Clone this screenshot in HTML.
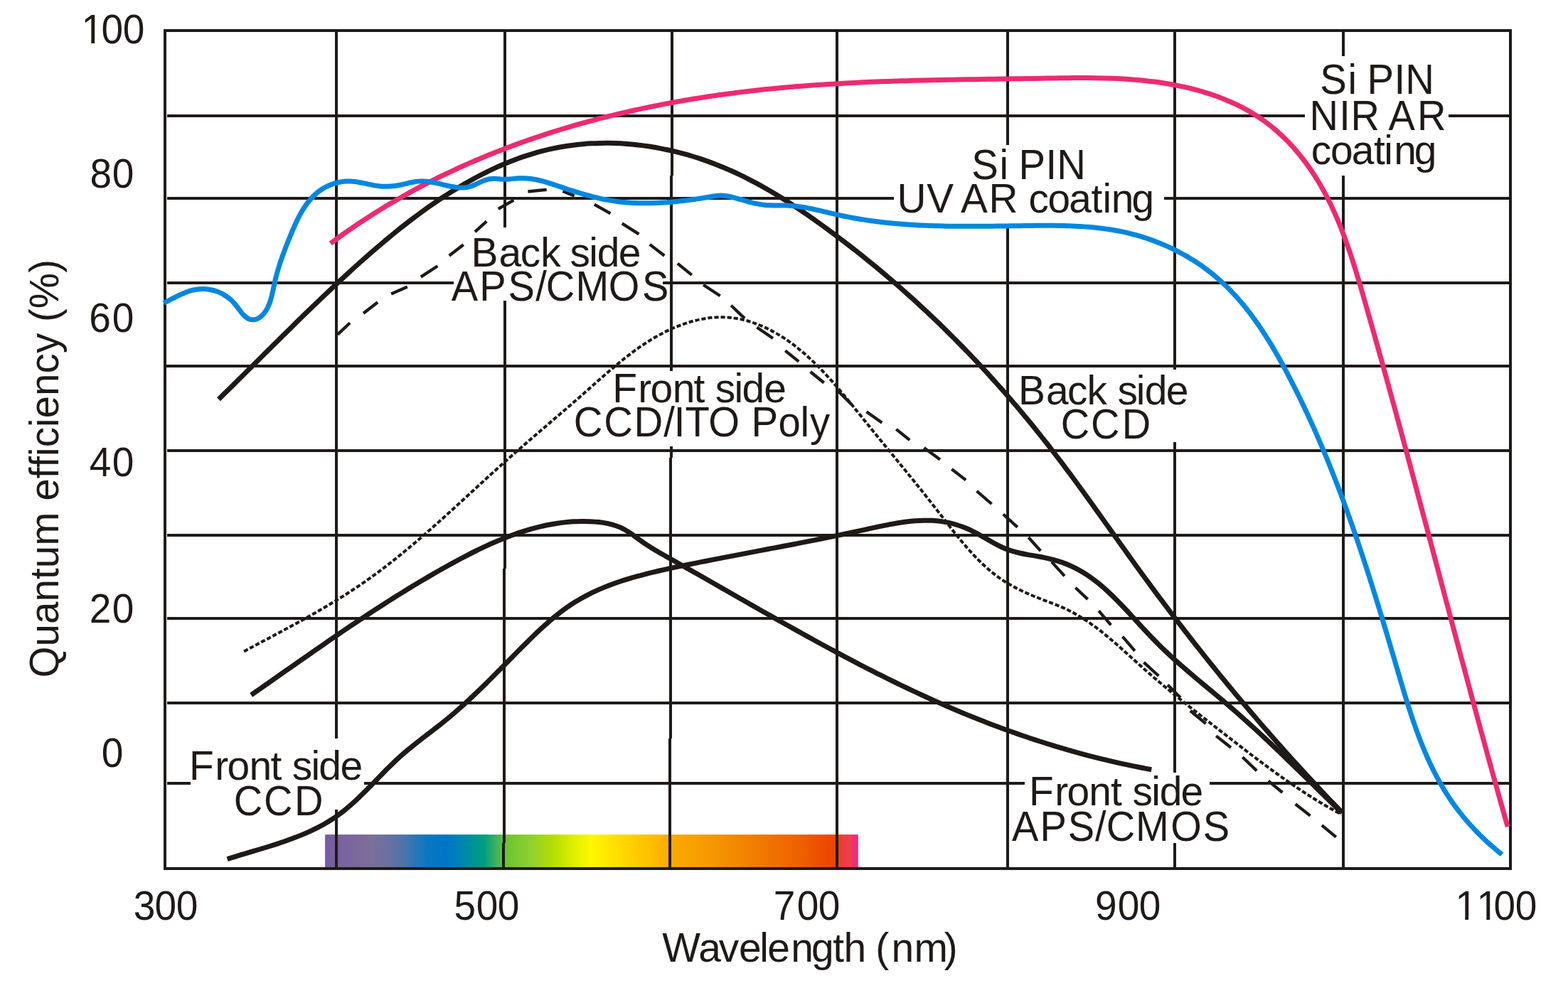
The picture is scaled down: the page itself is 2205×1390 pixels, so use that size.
<!DOCTYPE html>
<html lang="en">
<head>
<meta charset="utf-8">
<title>Quantum efficiency vs wavelength</title>
<style>
html,body{margin:0;padding:0;background:#fff}
body{width:2205px;height:1390px;overflow:hidden}
svg{display:block}
svg text{font-family:"Liberation Sans", Arial, Helvetica, sans-serif;fill:#1f1a17;white-space:pre}
</style>
</head>
<body>
<svg xmlns="http://www.w3.org/2000/svg" width="2205" height="1390" viewBox="0 0 2205 1390">
<rect width="2205" height="1390" fill="#fff"/>
<g id="spectrum">
<defs><linearGradient id="spec" gradientUnits="userSpaceOnUse" x1="457.1" y1="0" x2="1206.8" y2="0"><stop offset="0.0000" stop-color="#755ca4"/><stop offset="0.0305" stop-color="#79649f"/><stop offset="0.0866" stop-color="#7b6e9a"/><stop offset="0.1172" stop-color="#6a70a0"/><stop offset="0.1506" stop-color="#4a74ac"/><stop offset="0.1906" stop-color="#0a78c0"/><stop offset="0.2266" stop-color="#0075c8"/><stop offset="0.2626" stop-color="#0088aa"/><stop offset="0.2995" stop-color="#00a07e"/><stop offset="0.3213" stop-color="#44b060"/><stop offset="0.3407" stop-color="#6ec232"/><stop offset="0.3840" stop-color="#8ed030"/><stop offset="0.4320" stop-color="#b8e000"/><stop offset="0.4689" stop-color="#e0f000"/><stop offset="0.5001" stop-color="#fff800"/><stop offset="0.5414" stop-color="#ffe000"/><stop offset="0.5894" stop-color="#ffc800"/><stop offset="0.6504" stop-color="#faaa00"/><stop offset="0.7242" stop-color="#f59800"/><stop offset="0.8210" stop-color="#f07800"/><stop offset="0.8936" stop-color="#ee6000"/><stop offset="0.9416" stop-color="#ec4800"/><stop offset="0.9643" stop-color="#eb4500"/><stop offset="0.9683" stop-color="#ec3c40"/><stop offset="0.9876" stop-color="#ee4050"/><stop offset="0.9880" stop-color="#ee2d7a"/><stop offset="1.0000" stop-color="#ee2d7a"/></linearGradient></defs>
<rect x="457.1" y="1174.1" width="749.7" height="46.9" fill="url(#spec)"/>
</g>
<g id="grid">
<path d="M473 43V1039M473 1139.3V1222M710 43V319.8M710 423.2V800M708.5 800V1186M707.5 1186V1222M945 43V247M944 247V522.3M944 628.3V644M943 644V1039M942 1039V1222M1177 43V1222M1417 43V203.6M1417 320.8V1222M1652 43V519.6M1652 622V1086.7M1652 1186V1222M1889 43V78.6M1889 247.1V1222M235 163H1834.7M2037 163H2124M235 279H1256.8M1637 279H2124M235 398H637.5M932 398H2124M232 515H2124M235 634H2124M235 753H2124M235 870H2124M235 989H2124M235 1102H268M512 1102H1440.8M1701.1 1102H2124" fill="none" stroke="#1f1a17" stroke-width="4" shape-rendering="crispEdges"/>
<rect x="232" y="43" width="1892" height="1179" fill="none" stroke="#1f1a17" stroke-width="4" shape-rendering="crispEdges"/>
</g>
<g id="curves" shape-rendering="geometricPrecision">
<path d="M343.11 916.4C344.87 915.46 350.15 912.64 353.68 910.76C357.2 908.89 360.74 907.01 364.27 905.14C367.81 903.26 371.34 901.39 374.88 899.51C378.42 897.63 381.96 895.75 385.5 893.86C389.03 891.97 392.57 890.08 396.11 888.19C399.64 886.29 403.18 884.39 406.7 882.48C410.23 880.56 413.76 878.65 417.28 876.71C420.79 874.78 424.31 872.85 427.81 870.89C431.32 868.94 434.82 866.98 438.31 865C441.8 863.02 445.28 861.03 448.75 859.02C452.21 857.01 455.68 854.99 459.12 852.95C462.57 850.91 466 848.85 469.42 846.78C472.84 844.7 476.25 842.6 479.64 840.48C483.03 838.36 486.41 836.22 489.77 834.06C493.12 831.9 496.47 829.71 499.79 827.5C503.11 825.29 506.41 823.05 509.69 820.79C512.98 818.53 516.24 816.24 519.48 813.92C522.73 811.61 525.95 809.27 529.16 806.9C532.36 804.54 535.55 802.15 538.72 799.74C541.89 797.33 545.05 794.9 548.19 792.45C551.33 790 554.45 787.53 557.56 785.04C560.67 782.55 563.77 780.04 566.85 777.51C569.93 774.99 573 772.44 576.06 769.88C579.12 767.32 582.17 764.75 585.2 762.16C588.24 759.57 591.27 756.97 594.28 754.36C597.3 751.74 600.31 749.11 603.31 746.48C606.31 743.84 609.3 741.19 612.28 738.53C615.27 735.88 618.25 733.21 621.22 730.54C624.19 727.86 627.16 725.18 630.12 722.5C633.09 719.81 636.04 717.12 639 714.42C641.96 711.72 644.91 709.02 647.86 706.32C650.81 703.61 653.76 700.91 656.71 698.2C659.66 695.49 662.61 692.78 665.56 690.07C668.51 687.37 671.46 684.66 674.41 681.95C677.37 679.25 680.32 676.54 683.28 673.84C686.23 671.14 689.19 668.45 692.16 665.76C695.13 663.07 698.1 660.38 701.07 657.7C704.05 655.03 707.03 652.35 710.02 649.69C713.01 647.03 716 644.38 719 641.73C722 639.08 725.01 636.44 728.02 633.81C731.03 631.18 734.05 628.55 737.07 625.93C740.09 623.3 743.12 620.69 746.15 618.07C749.17 615.46 752.21 612.85 755.24 610.24C758.27 607.63 761.31 605.03 764.34 602.42C767.38 599.82 770.41 597.22 773.45 594.61C776.48 592.01 779.52 589.4 782.55 586.8C785.59 584.19 788.62 581.59 791.65 578.98C794.69 576.37 797.72 573.76 800.74 571.14C803.77 568.52 806.79 565.91 809.81 563.28C812.83 560.66 815.84 558.03 818.85 555.39C821.86 552.75 824.86 550.11 827.86 547.46C830.86 544.81 833.85 542.15 836.85 539.5C839.85 536.85 842.84 534.2 845.84 531.56C848.85 528.92 851.85 526.28 854.88 523.67C857.9 521.06 860.93 518.46 863.99 515.89C867.04 513.32 870.11 510.77 873.21 508.26C876.31 505.75 879.42 503.26 882.58 500.83C885.73 498.39 888.9 495.99 892.12 493.64C895.34 491.29 898.59 488.98 901.88 486.73C905.18 484.49 908.51 482.29 911.89 480.17C915.27 478.04 918.7 475.97 922.18 473.98C925.66 471.99 929.19 470.06 932.77 468.23C936.35 466.4 939.98 464.64 943.65 462.99C947.32 461.34 951.05 459.77 954.81 458.32C958.58 456.87 962.39 455.51 966.25 454.29C970.1 453.06 974.01 451.94 977.95 450.96C981.88 449.99 985.87 449.13 989.85 448.44C993.83 447.75 997.85 447.19 1001.85 446.81C1005.84 446.44 1009.85 446.22 1013.82 446.2C1017.8 446.18 1021.76 446.34 1025.68 446.69C1029.6 447.03 1033.5 447.57 1037.36 448.25C1041.23 448.94 1045.06 449.81 1048.85 450.81C1052.64 451.82 1056.4 452.99 1060.12 454.29C1063.83 455.59 1067.51 457.03 1071.14 458.59C1074.77 460.15 1078.36 461.85 1081.9 463.65C1085.43 465.44 1088.93 467.36 1092.36 469.36C1095.8 471.36 1099.19 473.47 1102.52 475.66C1105.84 477.84 1109.11 480.11 1112.33 482.45C1115.55 484.79 1118.71 487.21 1121.82 489.69C1124.93 492.17 1127.99 494.72 1131.01 497.33C1134.02 499.93 1136.99 502.61 1139.91 505.33C1142.84 508.05 1145.72 510.83 1148.57 513.64C1151.42 516.46 1154.23 519.34 1157.01 522.24C1159.78 525.15 1162.52 528.1 1165.24 531.08C1167.96 534.06 1170.64 537.08 1173.3 540.11C1175.96 543.15 1178.6 546.22 1181.21 549.3C1183.83 552.39 1186.43 555.5 1189.01 558.61C1191.59 561.73 1194.15 564.86 1196.71 568C1199.26 571.13 1201.8 574.27 1204.33 577.41C1206.87 580.55 1209.39 583.69 1211.92 586.82C1214.44 589.95 1216.97 593.08 1219.49 596.19C1222.01 599.3 1224.53 602.41 1227.05 605.5C1229.57 608.6 1232.08 611.68 1234.6 614.77C1237.11 617.85 1239.63 620.93 1242.14 624C1244.66 627.07 1247.17 630.14 1249.68 633.21C1252.19 636.28 1254.7 639.34 1257.21 642.4C1259.71 645.47 1262.22 648.53 1264.72 651.6C1267.23 654.67 1269.73 657.73 1272.23 660.81C1274.73 663.88 1277.23 666.95 1279.73 670.03C1282.23 673.12 1284.73 676.2 1287.22 679.29C1289.72 682.39 1292.21 685.49 1294.7 688.6C1297.19 691.71 1299.68 694.83 1302.17 697.96C1304.65 701.09 1307.14 704.23 1309.62 707.38C1312.11 710.53 1314.59 713.7 1317.07 716.88C1319.55 720.06 1322.02 723.26 1324.5 726.47C1326.98 729.67 1329.46 732.89 1331.95 736.1C1334.44 739.31 1336.93 742.53 1339.45 745.72C1341.97 748.91 1344.5 752.1 1347.06 755.25C1349.61 758.4 1352.19 761.54 1354.8 764.63C1357.41 767.72 1360.05 770.78 1362.73 773.79C1365.41 776.79 1368.12 779.76 1370.88 782.66C1373.65 785.55 1376.45 788.4 1379.31 791.17C1382.17 793.93 1385.07 796.64 1388.04 799.25C1391.01 801.86 1394.04 804.4 1397.13 806.84C1400.23 809.28 1403.39 811.63 1406.62 813.87C1409.85 816.11 1413.17 818.24 1416.53 820.28C1419.9 822.33 1423.35 824.26 1426.84 826.13C1430.32 828 1433.88 829.77 1437.46 831.48C1441.05 833.2 1444.69 834.83 1448.36 836.41C1452.03 838 1455.74 839.51 1459.46 840.99C1463.19 842.48 1466.96 843.88 1470.7 845.32C1474.45 846.75 1478.23 848.13 1481.95 849.6C1485.67 851.07 1489.39 852.54 1493.02 854.14C1496.66 855.73 1500.25 857.4 1503.78 859.18C1507.3 860.96 1510.76 862.84 1514.17 864.8C1517.58 866.76 1520.93 868.82 1524.24 870.95C1527.55 873.07 1530.8 875.28 1534.02 877.55C1537.25 879.82 1540.42 882.16 1543.57 884.55C1546.71 886.93 1549.82 889.39 1552.9 891.88C1555.99 894.37 1559.04 896.91 1562.07 899.48C1565.11 902.05 1568.12 904.66 1571.12 907.29C1574.12 909.92 1577.1 912.58 1580.08 915.24C1583.06 917.91 1586.03 920.6 1589 923.28C1591.97 925.97 1594.94 928.66 1597.91 931.35C1600.89 934.03 1603.87 936.71 1606.86 939.37C1609.86 942.02 1612.86 944.67 1615.88 947.29C1618.9 949.92 1621.93 952.53 1624.97 955.12C1628.01 957.71 1631.06 960.29 1634.12 962.86C1637.19 965.42 1640.26 967.97 1643.34 970.52C1646.42 973.06 1649.51 975.58 1652.61 978.1C1655.71 980.62 1658.81 983.13 1661.93 985.63C1665.04 988.13 1668.16 990.62 1671.28 993.11C1674.41 995.59 1677.54 998.07 1680.68 1000.54C1683.81 1003.02 1686.96 1005.48 1690.1 1007.95C1693.25 1010.41 1696.39 1012.87 1699.55 1015.33C1702.7 1017.78 1705.85 1020.24 1709.01 1022.69C1712.17 1025.15 1715.32 1027.6 1718.48 1030.06C1721.64 1032.51 1724.8 1034.97 1727.96 1037.43C1731.13 1039.88 1734.29 1042.34 1737.46 1044.79C1740.62 1047.24 1743.79 1049.69 1746.97 1052.13C1750.14 1054.57 1753.32 1057.01 1756.5 1059.44C1759.69 1061.87 1762.88 1064.29 1766.07 1066.7C1769.27 1069.11 1772.47 1071.52 1775.69 1073.91C1778.9 1076.3 1782.11 1078.68 1785.34 1081.04C1788.57 1083.41 1791.81 1085.76 1795.06 1088.09C1798.3 1090.43 1801.56 1092.75 1804.83 1095.05C1808.1 1097.35 1811.38 1099.63 1814.67 1101.9C1817.96 1104.16 1821.27 1106.4 1824.59 1108.62C1827.91 1110.84 1831.24 1113.04 1834.59 1115.21C1837.94 1117.38 1841.3 1119.53 1844.68 1121.66C1848.06 1123.78 1851.45 1125.87 1854.87 1127.94C1858.28 1130 1861.71 1132.04 1865.16 1134.05C1868.61 1136.05 1872.07 1138.03 1875.56 1139.97C1879.05 1141.91 1884.33 1144.74 1886.08 1145.7" fill="none" stroke="#1f1a17" stroke-width="4" stroke-dasharray="6.2 2.9"/>
<path d="M474.8 470.6L492.1 454.3M511.1 440.7L531.1 425.3M550.1 413.5L572.8 403.5M591.8 389.6L615.4 374.2M631.7 359.7L651.7 344.3M668 326.1L684.3 311.3M700.7 293.9L722.4 281.7M742.4 269.5L768.7 266.8M791.4 269L807.7 275.4M835.8 287.7L858.5 300.4M874.8 314.4L898.4 329.4M913.8 343.9L934.3 359.7M952.8 370.6L972.8 386.9M989.1 400.8L1012.7 416.2M1028.1 429.8L1047.1 447.9M1064.4 460.6L1087 476.1M1104.3 493.3L1123.3 508.7M1139.6 523L1158.7 538.5M1178.6 550.3L1197.7 569.3M1218.5 579.3L1240.3 594.7M1260.3 603.8L1279.3 619.2M1299.3 630.1L1322 646.4M1338.3 660L1358.2 675.4M1373.6 690.8L1394.5 709M1410.8 723.5L1430.8 741.6M1446.2 756L1463.4 775M1478.8 790.4L1497 810.4M1512.4 826.7L1529.6 843.1M1545.1 859.4L1562.3 879.3M1578.6 895.7L1595.8 915.6M1608.5 931.9L1629.4 951M1642 963.5L1660 981.5M1673.9 1000L1695.7 1018.1M1710.2 1035.4L1731 1051.7M1747.3 1065.3L1767.3 1084.4M1783.6 1098.7L1803.5 1115M1821.7 1131.3L1842.5 1147.6M1858.9 1161.2L1878.8 1177.6" fill="none" stroke="#1f1a17" stroke-width="4.3"/>
<path d="M353.24 977.78C354.91 976.62 359.91 973.13 363.23 970.81C366.56 968.49 369.87 966.17 373.19 963.85C376.5 961.52 379.81 959.2 383.12 956.88C386.43 954.57 389.73 952.25 393.03 949.93C396.33 947.62 399.63 945.3 402.93 942.99C406.22 940.68 409.52 938.37 412.81 936.06C416.1 933.76 419.39 931.45 422.68 929.15C425.97 926.85 429.26 924.55 432.55 922.26C435.84 919.96 439.13 917.67 442.42 915.39C445.71 913.1 449 910.82 452.29 908.54C455.58 906.26 458.87 903.99 462.17 901.72C465.47 899.45 468.76 897.19 472.06 894.93C475.37 892.68 478.67 890.42 481.98 888.18C485.28 885.93 488.6 883.69 491.91 881.46C495.23 879.22 498.55 876.99 501.87 874.77C505.2 872.55 508.53 870.34 511.86 868.13C515.2 865.92 518.54 863.72 521.89 861.53C525.24 859.34 528.59 857.15 531.95 854.98C535.31 852.8 538.68 850.63 542.06 848.47C545.44 846.31 548.82 844.16 552.21 842.02C555.61 839.88 559.01 837.75 562.42 835.62C565.83 833.5 569.26 831.38 572.69 829.28C576.12 827.18 579.56 825.08 583.01 823C586.46 820.92 589.93 818.84 593.4 816.78C596.88 814.72 600.36 812.67 603.86 810.63C607.36 808.59 610.87 806.56 614.4 804.54C617.92 802.52 621.46 800.52 625.01 798.52C628.56 796.53 632.12 794.55 635.7 792.58C639.28 790.62 642.87 788.67 646.48 786.75C650.08 784.82 653.7 782.92 657.34 781.04C660.97 779.17 664.62 777.32 668.28 775.51C671.94 773.69 675.61 771.91 679.3 770.17C682.99 768.43 686.69 766.72 690.41 765.06C694.12 763.4 697.85 761.78 701.59 760.22C705.34 758.65 709.09 757.13 712.86 755.67C716.63 754.21 720.42 752.8 724.21 751.45C728.01 750.11 731.82 748.82 735.64 747.6C739.47 746.38 743.31 745.22 747.16 744.13C751.01 743.05 754.87 742.03 758.75 741.1C762.63 740.16 766.52 739.29 770.42 738.52C774.32 737.74 778.24 737.04 782.17 736.43C786.1 735.82 790.05 735.29 794 734.86C797.96 734.43 801.93 734.09 805.92 733.85C809.9 733.61 813.9 733.47 817.91 733.43C821.92 733.39 825.95 733.45 829.98 733.63C834.01 733.81 838.08 734.07 842.09 734.52C846.1 734.98 850.13 735.55 854.05 736.37C857.98 737.19 861.89 738.17 865.65 739.45C869.42 740.74 873.12 742.24 876.67 744.07C880.21 745.89 883.57 748.14 886.92 750.41C890.27 752.68 893.45 755.31 896.75 757.7C900.05 760.08 903.35 762.46 906.71 764.72C910.07 766.98 913.48 769.12 916.91 771.24C920.34 773.35 923.81 775.38 927.28 777.4C930.76 779.42 934.26 781.38 937.75 783.36C941.25 785.33 944.75 787.29 948.25 789.26C951.75 791.23 955.25 793.21 958.75 795.18C962.24 797.16 965.74 799.14 969.23 801.12C972.73 803.11 976.22 805.09 979.71 807.08C983.21 809.07 986.7 811.06 990.19 813.05C993.69 815.04 997.18 817.04 1000.67 819.03C1004.16 821.03 1007.65 823.02 1011.14 825.02C1014.63 827.02 1018.13 829.02 1021.62 831.01C1025.11 833.01 1028.6 835.01 1032.09 837.01C1035.59 839 1039.08 841 1042.57 843C1046.07 845 1049.56 846.99 1053.06 848.99C1056.55 850.98 1060.05 852.98 1063.55 854.97C1067.04 856.96 1070.54 858.95 1074.04 860.94C1077.54 862.93 1081.04 864.91 1084.55 866.9C1088.05 868.88 1091.55 870.86 1095.06 872.84C1098.57 874.81 1102.07 876.79 1105.58 878.76C1109.09 880.73 1112.6 882.7 1116.12 884.66C1119.63 886.62 1123.15 888.58 1126.67 890.53C1130.19 892.49 1133.71 894.44 1137.23 896.38C1140.76 898.32 1144.28 900.26 1147.81 902.2C1151.34 904.13 1154.88 906.06 1158.41 907.98C1161.95 909.9 1165.48 911.81 1169.03 913.72C1172.57 915.63 1176.11 917.53 1179.66 919.43C1183.21 921.32 1186.76 923.21 1190.32 925.09C1193.88 926.97 1197.44 928.85 1201 930.71C1204.57 932.58 1208.13 934.43 1211.71 936.28C1215.28 938.13 1218.85 939.97 1222.44 941.8C1226.02 943.63 1229.6 945.45 1233.19 947.26C1236.78 949.07 1240.38 950.88 1243.98 952.67C1247.58 954.46 1251.18 956.24 1254.79 958.01C1258.4 959.79 1262.01 961.55 1265.63 963.3C1269.25 965.05 1272.88 966.79 1276.51 968.51C1280.14 970.24 1283.78 971.96 1287.42 973.66C1291.06 975.37 1294.71 977.06 1298.36 978.74C1302.01 980.42 1305.67 982.09 1309.34 983.74C1313.01 985.39 1316.68 987.04 1320.36 988.66C1324.04 990.29 1327.72 991.91 1331.41 993.51C1335.1 995.11 1338.8 996.69 1342.51 998.27C1346.21 999.84 1349.92 1001.39 1353.64 1002.94C1357.36 1004.48 1361.09 1006.01 1364.82 1007.52C1368.55 1009.04 1372.29 1010.53 1376.03 1012.02C1379.78 1013.5 1383.53 1014.97 1387.29 1016.42C1391.05 1017.87 1394.81 1019.31 1398.58 1020.73C1402.35 1022.15 1406.13 1023.56 1409.91 1024.94C1413.69 1026.33 1417.48 1027.71 1421.28 1029.06C1425.07 1030.42 1428.87 1031.76 1432.68 1033.08C1436.48 1034.41 1440.29 1035.72 1444.11 1037.01C1447.93 1038.3 1451.75 1039.57 1455.58 1040.83C1459.41 1042.08 1463.25 1043.32 1467.09 1044.54C1470.93 1045.76 1474.77 1046.97 1478.62 1048.16C1482.47 1049.34 1486.33 1050.51 1490.19 1051.66C1494.05 1052.81 1497.92 1053.95 1501.79 1055.06C1505.66 1056.18 1509.53 1057.27 1513.41 1058.35C1517.29 1059.43 1521.18 1060.49 1525.07 1061.53C1528.96 1062.57 1532.86 1063.59 1536.76 1064.6C1540.66 1065.6 1544.56 1066.58 1548.47 1067.55C1552.38 1068.51 1556.29 1069.46 1560.21 1070.38C1564.13 1071.31 1568.05 1072.22 1571.97 1073.1C1575.9 1073.99 1579.83 1074.86 1583.77 1075.7C1587.7 1076.55 1591.64 1077.38 1595.58 1078.18C1599.52 1078.99 1603.47 1079.77 1607.42 1080.54C1611.37 1081.3 1617.3 1082.4 1619.28 1082.77" fill="none" stroke="#1f1a17" stroke-width="7" stroke-linejoin="round"/>
<path d="M319.59 1208.56C321.5 1207.97 327.23 1206.19 331.05 1205.03C334.87 1203.87 338.69 1202.74 342.51 1201.59C346.34 1200.45 350.17 1199.33 354 1198.19C357.83 1197.05 361.66 1195.91 365.5 1194.75C369.34 1193.59 373.18 1192.43 377.02 1191.23C380.87 1190.03 384.72 1188.82 388.57 1187.56C392.42 1186.3 396.27 1185.02 400.11 1183.68C403.94 1182.35 407.78 1180.98 411.58 1179.56C415.38 1178.13 419.18 1176.66 422.93 1175.12C426.69 1173.58 430.42 1171.99 434.11 1170.32C437.79 1168.66 441.45 1166.93 445.05 1165.12C448.64 1163.3 452.2 1161.42 455.7 1159.45C459.19 1157.47 462.63 1155.42 466 1153.26C469.37 1151.1 472.67 1148.85 475.9 1146.51C479.14 1144.16 482.29 1141.71 485.4 1139.2C488.51 1136.68 491.55 1134.08 494.56 1131.42C497.57 1128.77 500.52 1126.03 503.45 1123.27C506.38 1120.5 509.26 1117.67 512.13 1114.83C515.01 1111.99 517.84 1109.09 520.68 1106.2C523.52 1103.31 526.34 1100.38 529.17 1097.47C531.99 1094.56 534.81 1091.63 537.65 1088.74C540.49 1085.84 543.33 1082.94 546.2 1080.09C549.08 1077.24 551.97 1074.4 554.9 1071.62C557.83 1068.84 560.79 1066.1 563.8 1063.42C566.8 1060.74 569.86 1058.12 572.94 1055.54C576.02 1052.96 579.14 1050.43 582.27 1047.92C585.41 1045.41 588.57 1042.94 591.74 1040.48C594.91 1038.01 598.09 1035.58 601.27 1033.13C604.45 1030.68 607.63 1028.25 610.8 1025.8C613.97 1023.34 617.14 1020.89 620.27 1018.4C623.41 1015.91 626.53 1013.4 629.62 1010.85C632.71 1008.3 635.77 1005.72 638.81 1003.11C641.84 1000.5 644.85 997.86 647.85 995.19C650.84 992.53 653.8 989.83 656.76 987.11C659.71 984.4 662.64 981.66 665.56 978.9C668.47 976.14 671.37 973.36 674.26 970.56C677.15 967.77 680.02 964.95 682.89 962.13C685.76 959.3 688.61 956.46 691.46 953.61C694.31 950.77 697.15 947.9 699.99 945.04C702.83 942.18 705.67 939.3 708.5 936.43C711.34 933.55 714.17 930.67 717 927.79C719.84 924.92 722.67 922.04 725.52 919.16C728.36 916.29 731.21 913.41 734.06 910.55C736.92 907.68 739.78 904.82 742.66 901.98C745.54 899.14 748.42 896.3 751.33 893.5C754.24 890.7 757.17 887.92 760.12 885.18C763.08 882.45 766.05 879.74 769.06 877.08C772.07 874.43 775.1 871.81 778.18 869.25C781.26 866.7 784.37 864.2 787.52 861.77C790.68 859.34 793.87 856.96 797.11 854.67C800.36 852.39 803.65 850.17 806.99 848.04C810.34 845.92 813.74 843.88 817.19 841.92C820.64 839.96 824.14 838.09 827.68 836.29C831.23 834.49 834.82 832.77 838.45 831.12C842.08 829.47 845.76 827.89 849.46 826.37C853.17 824.86 856.92 823.41 860.69 822.02C864.47 820.62 868.28 819.3 872.11 818.01C875.95 816.73 879.81 815.51 883.7 814.33C887.58 813.15 891.49 812.02 895.41 810.93C899.34 809.83 903.28 808.79 907.23 807.77C911.19 806.75 915.16 805.78 919.14 804.83C923.11 803.88 927.1 802.96 931.09 802.06C935.08 801.16 939.07 800.29 943.06 799.44C947.05 798.58 951.05 797.74 955.03 796.92C959.02 796.09 963 795.27 966.97 794.47C970.94 793.66 974.9 792.86 978.86 792.07C982.82 791.27 986.76 790.49 990.71 789.71C994.65 788.92 998.59 788.15 1002.52 787.38C1006.45 786.61 1010.37 785.85 1014.29 785.09C1018.22 784.33 1022.13 783.57 1026.04 782.82C1029.96 782.07 1033.86 781.32 1037.77 780.57C1041.68 779.82 1045.58 779.08 1049.48 778.34C1053.38 777.59 1057.28 776.85 1061.18 776.11C1065.07 775.37 1068.97 774.63 1072.87 773.89C1076.76 773.15 1080.66 772.41 1084.55 771.67C1088.45 770.93 1092.35 770.18 1096.24 769.44C1100.14 768.69 1104.04 767.95 1107.94 767.2C1111.84 766.45 1115.74 765.69 1119.65 764.94C1123.56 764.18 1127.47 763.42 1131.38 762.65C1135.29 761.89 1139.21 761.12 1143.13 760.34C1147.05 759.57 1150.98 758.79 1154.91 758C1158.84 757.21 1162.78 756.42 1166.72 755.61C1170.66 754.81 1174.61 754 1178.57 753.19C1182.53 752.37 1186.49 751.54 1190.46 750.71C1194.44 749.87 1198.42 749.03 1202.4 748.18C1206.39 747.32 1210.39 746.46 1214.4 745.58C1218.41 744.71 1222.43 743.81 1226.45 742.94C1230.47 742.07 1234.5 741.18 1238.54 740.34C1242.57 739.51 1246.61 738.67 1250.65 737.91C1254.68 737.15 1258.72 736.41 1262.75 735.76C1266.79 735.11 1270.82 734.5 1274.84 734.01C1278.86 733.51 1282.88 733.08 1286.89 732.78C1290.89 732.47 1294.89 732.25 1298.87 732.18C1302.85 732.11 1306.82 732.15 1310.78 732.35C1314.73 732.55 1318.66 732.87 1322.58 733.38C1326.49 733.9 1330.39 734.56 1334.26 735.42C1338.13 736.27 1341.98 737.32 1345.79 738.51C1349.6 739.71 1353.38 741.09 1357.12 742.61C1360.85 744.12 1364.54 745.8 1368.18 747.59C1371.82 749.37 1375.39 751.35 1378.95 753.32C1382.51 755.29 1386.01 757.4 1389.55 759.4C1393.08 761.41 1396.58 763.48 1400.14 765.36C1403.7 767.24 1407.27 769.1 1410.92 770.69C1414.57 772.28 1418.28 773.7 1422.06 774.92C1425.83 776.13 1429.7 777.09 1433.59 777.99C1437.47 778.89 1441.43 779.59 1445.38 780.33C1449.33 781.06 1453.32 781.67 1457.29 782.39C1461.26 783.1 1465.25 783.78 1469.2 784.61C1473.14 785.45 1477.08 786.36 1480.95 787.41C1484.83 788.45 1488.68 789.61 1492.46 790.91C1496.23 792.21 1499.96 793.63 1503.6 795.19C1507.24 796.76 1510.81 798.47 1514.3 800.31C1517.79 802.15 1521.21 804.14 1524.56 806.23C1527.91 808.32 1531.19 810.54 1534.42 812.85C1537.65 815.16 1540.81 817.59 1543.93 820.09C1547.05 822.6 1550.11 825.2 1553.14 827.87C1556.16 830.54 1559.14 833.29 1562.09 836.09C1565.04 838.89 1567.94 841.77 1570.83 844.67C1573.72 847.58 1576.57 850.54 1579.41 853.52C1582.25 856.5 1585.06 859.53 1587.87 862.56C1590.68 865.58 1593.47 868.64 1596.26 871.69C1599.05 874.73 1601.83 877.8 1604.62 880.83C1607.42 883.87 1610.2 886.9 1613.01 889.9C1615.82 892.89 1618.63 895.87 1621.47 898.8C1624.31 901.72 1627.16 904.61 1630.03 907.45C1632.91 910.3 1635.81 913.1 1638.72 915.87C1641.63 918.63 1644.56 921.36 1647.5 924.06C1650.44 926.76 1653.4 929.43 1656.37 932.07C1659.34 934.72 1662.32 937.34 1665.32 939.94C1668.31 942.54 1671.31 945.12 1674.32 947.69C1677.33 950.25 1680.35 952.8 1683.37 955.35C1686.39 957.89 1689.43 960.42 1692.46 962.96C1695.49 965.49 1698.52 968.01 1701.56 970.55C1704.59 973.08 1707.63 975.61 1710.67 978.15C1713.7 980.69 1716.74 983.23 1719.77 985.8C1722.8 988.36 1725.83 990.93 1728.84 993.52C1731.86 996.11 1734.88 998.72 1737.89 1001.35C1740.89 1003.98 1743.89 1006.63 1746.89 1009.3C1749.88 1011.96 1752.87 1014.65 1755.85 1017.35C1758.84 1020.05 1761.81 1022.76 1764.78 1025.49C1767.75 1028.22 1770.72 1030.96 1773.68 1033.72C1776.64 1036.47 1779.59 1039.24 1782.54 1042.02C1785.49 1044.79 1788.43 1047.58 1791.37 1050.38C1794.31 1053.17 1797.24 1055.98 1800.17 1058.79C1803.1 1061.6 1806.03 1064.42 1808.95 1067.25C1811.87 1070.07 1814.78 1072.9 1817.7 1075.73C1820.61 1078.56 1823.52 1081.4 1826.42 1084.24C1829.33 1087.08 1832.23 1089.92 1835.13 1092.76C1838.03 1095.59 1840.92 1098.43 1843.82 1101.27C1846.71 1104.11 1849.6 1106.95 1852.49 1109.78C1855.37 1112.61 1858.26 1115.44 1861.14 1118.26C1864.02 1121.09 1866.9 1123.91 1869.78 1126.72C1872.65 1129.53 1875.53 1132.34 1878.4 1135.13C1881.28 1137.93 1885.58 1142.1 1887.02 1143.49" fill="none" stroke="#1f1a17" stroke-width="7" stroke-linejoin="round"/>
<path d="M307.43 561.71C308.86 560.3 313.17 556.09 316.03 553.28C318.88 550.48 321.73 547.68 324.57 544.88C327.41 542.09 330.24 539.29 333.07 536.5C335.89 533.71 338.71 530.92 341.52 528.13C344.33 525.35 347.14 522.57 349.94 519.78C352.74 517 355.54 514.23 358.33 511.45C361.13 508.67 363.92 505.9 366.71 503.13C369.5 500.35 372.29 497.58 375.08 494.81C377.87 492.04 380.66 489.28 383.45 486.51C386.24 483.74 389.03 480.98 391.82 478.22C394.61 475.45 397.41 472.69 400.21 469.93C403.01 467.17 405.81 464.4 408.62 461.64C411.43 458.88 414.24 456.12 417.06 453.36C419.88 450.6 422.7 447.84 425.53 445.08C428.37 442.32 431.21 439.57 434.06 436.81C436.91 434.05 439.77 431.29 442.64 428.53C445.51 425.76 448.38 423 451.28 420.24C454.17 417.48 457.07 414.72 459.98 411.95C462.9 409.19 465.83 406.43 468.77 403.66C471.71 400.89 474.67 398.13 477.64 395.36C480.61 392.59 483.6 389.82 486.6 387.06C489.6 384.3 492.62 381.53 495.65 378.77C498.68 376.02 501.72 373.26 504.78 370.52C507.84 367.77 510.92 365.03 514.01 362.3C517.1 359.57 520.2 356.85 523.32 354.14C526.44 351.43 529.57 348.73 532.72 346.05C535.87 343.37 539.03 340.69 542.21 338.04C545.38 335.39 548.57 332.74 551.78 330.12C554.99 327.5 558.21 324.9 561.44 322.32C564.68 319.74 567.93 317.17 571.2 314.64C574.46 312.1 577.74 309.58 581.04 307.09C584.33 304.6 587.64 302.13 590.96 299.69C594.29 297.25 597.63 294.84 600.98 292.46C604.33 290.08 607.7 287.72 611.09 285.4C614.47 283.08 617.87 280.79 621.28 278.53C624.69 276.28 628.12 274.05 631.56 271.87C635 269.68 638.46 267.53 641.93 265.42C645.4 263.31 648.88 261.24 652.39 259.21C655.89 257.17 659.4 255.18 662.93 253.23C666.46 251.29 670.01 249.38 673.56 247.52C677.12 245.66 680.7 243.84 684.29 242.08C687.88 240.31 691.48 238.59 695.1 236.92C698.71 235.25 702.35 233.62 706 232.06C709.64 230.49 713.3 228.97 716.98 227.51C720.66 226.05 724.35 224.63 728.06 223.28C731.76 221.93 735.48 220.63 739.22 219.4C742.96 218.16 746.71 216.98 750.47 215.87C754.24 214.75 758.02 213.69 761.81 212.7C765.61 211.71 769.42 210.77 773.24 209.91C777.07 209.05 780.9 208.25 784.76 207.52C788.61 206.78 792.48 206.12 796.36 205.52C800.24 204.92 804.13 204.38 808.03 203.91C811.94 203.44 815.85 203.04 819.77 202.7C823.69 202.36 827.62 202.08 831.56 201.87C835.5 201.65 839.44 201.5 843.39 201.41C847.34 201.32 851.3 201.29 855.26 201.33C859.22 201.36 863.18 201.46 867.14 201.61C871.11 201.77 875.08 201.98 879.04 202.26C883.01 202.53 886.97 202.86 890.94 203.26C894.9 203.65 898.87 204.1 902.83 204.61C906.78 205.11 910.74 205.68 914.69 206.3C918.64 206.92 922.59 207.6 926.53 208.34C930.46 209.07 934.4 209.86 938.32 210.71C942.24 211.55 946.16 212.45 950.06 213.41C953.96 214.36 957.86 215.37 961.74 216.43C965.62 217.49 969.49 218.61 973.34 219.77C977.2 220.94 981.04 222.16 984.86 223.43C988.69 224.7 992.5 226.02 996.29 227.39C1000.08 228.76 1003.86 230.18 1007.61 231.65C1011.37 233.12 1015.1 234.65 1018.82 236.21C1022.53 237.78 1026.23 239.4 1029.9 241.06C1033.58 242.72 1037.23 244.43 1040.87 246.18C1044.51 247.93 1048.12 249.73 1051.72 251.56C1055.32 253.4 1058.9 255.27 1062.46 257.18C1066.03 259.09 1069.57 261.04 1073.1 263.03C1076.63 265.01 1080.14 267.03 1083.63 269.08C1087.12 271.13 1090.6 273.22 1094.06 275.33C1097.52 277.44 1100.97 279.59 1104.39 281.76C1107.82 283.93 1111.24 286.13 1114.64 288.35C1118.04 290.57 1121.42 292.82 1124.79 295.08C1128.16 297.35 1131.52 299.64 1134.86 301.95C1138.2 304.26 1141.53 306.59 1144.85 308.93C1148.16 311.28 1151.46 313.64 1154.75 316.01C1158.04 318.39 1161.32 320.78 1164.59 323.18C1167.85 325.58 1171.11 327.99 1174.35 330.41C1177.59 332.84 1180.82 335.27 1184.04 337.72C1187.26 340.17 1190.47 342.63 1193.66 345.1C1196.86 347.57 1200.04 350.06 1203.22 352.55C1206.39 355.04 1209.55 357.55 1212.7 360.07C1215.84 362.59 1218.98 365.12 1222.11 367.66C1225.23 370.2 1228.34 372.75 1231.45 375.32C1234.55 377.88 1237.64 380.45 1240.72 383.04C1243.8 385.63 1246.86 388.23 1249.92 390.84C1252.98 393.44 1256.02 396.07 1259.05 398.7C1262.09 401.33 1265.11 403.97 1268.12 406.63C1271.13 409.28 1274.13 411.95 1277.11 414.62C1280.1 417.3 1283.08 419.99 1286.04 422.68C1289.01 425.38 1291.96 428.09 1294.9 430.81C1297.85 433.53 1300.78 436.26 1303.7 439.01C1306.62 441.75 1309.52 444.5 1312.42 447.26C1315.32 450.03 1318.21 452.8 1321.08 455.59C1323.96 458.37 1326.82 461.17 1329.67 463.97C1332.53 466.78 1335.37 469.6 1338.2 472.42C1341.03 475.25 1343.85 478.09 1346.66 480.94C1349.47 483.78 1352.26 486.64 1355.05 489.51C1357.84 492.38 1360.61 495.26 1363.38 498.15C1366.15 501.04 1368.9 503.94 1371.64 506.85C1374.39 509.76 1377.12 512.67 1379.84 515.6C1382.56 518.53 1385.27 521.47 1387.97 524.42C1390.67 527.37 1393.36 530.33 1396.04 533.3C1398.72 536.27 1401.39 539.25 1404.05 542.24C1406.71 545.23 1409.35 548.23 1411.99 551.24C1414.62 554.25 1417.25 557.27 1419.87 560.3C1422.48 563.32 1425.08 566.36 1427.68 569.41C1430.27 572.46 1432.86 575.51 1435.43 578.58C1438 581.65 1440.57 584.72 1443.12 587.81C1445.67 590.89 1448.21 593.99 1450.74 597.09C1453.27 600.2 1455.8 603.31 1458.31 606.43C1460.82 609.56 1463.32 612.69 1465.81 615.83C1468.3 618.97 1470.78 622.12 1473.25 625.28C1475.72 628.44 1478.17 631.61 1480.62 634.78C1483.07 637.96 1485.51 641.15 1487.94 644.34C1490.37 647.53 1492.79 650.74 1495.21 653.95C1497.62 657.16 1500.02 660.37 1502.42 663.6C1504.82 666.82 1507.2 670.05 1509.59 673.29C1511.97 676.52 1514.35 679.76 1516.72 683.01C1519.09 686.25 1521.45 689.51 1523.81 692.76C1526.17 696.02 1528.53 699.28 1530.88 702.54C1533.23 705.8 1535.58 709.07 1537.92 712.34C1540.27 715.61 1542.61 718.88 1544.95 722.16C1547.29 725.43 1549.62 728.71 1551.96 731.98C1554.3 735.26 1556.63 738.54 1558.97 741.82C1561.3 745.1 1563.63 748.38 1565.97 751.66C1568.3 754.93 1570.64 758.21 1572.97 761.49C1575.31 764.77 1577.64 768.04 1579.98 771.32C1582.32 774.59 1584.66 777.86 1587.01 781.13C1589.35 784.4 1591.7 787.67 1594.05 790.93C1596.41 794.2 1598.76 797.46 1601.12 800.71C1603.48 803.97 1605.85 807.22 1608.22 810.47C1610.59 813.71 1612.96 816.96 1615.35 820.19C1617.73 823.43 1620.11 826.66 1622.51 829.89C1624.9 833.12 1627.29 836.34 1629.7 839.56C1632.1 842.78 1634.51 846 1636.92 849.21C1639.33 852.42 1641.75 855.62 1644.18 858.82C1646.6 862.02 1649.03 865.22 1651.47 868.41C1653.9 871.6 1656.34 874.79 1658.79 877.97C1661.24 881.15 1663.69 884.33 1666.15 887.5C1668.6 890.67 1671.07 893.84 1673.53 897C1676 900.16 1678.48 903.32 1680.96 906.48C1683.44 909.63 1685.92 912.78 1688.42 915.92C1690.91 919.06 1693.4 922.2 1695.91 925.34C1698.41 928.47 1700.92 931.6 1703.43 934.73C1705.95 937.85 1708.47 940.97 1710.99 944.09C1713.52 947.2 1716.05 950.31 1718.59 953.42C1721.13 956.52 1723.67 959.62 1726.22 962.72C1728.77 965.81 1731.33 968.9 1733.89 971.99C1736.45 975.07 1739.02 978.16 1741.59 981.23C1744.16 984.31 1746.74 987.38 1749.33 990.44C1751.91 993.51 1754.51 996.57 1757.1 999.63C1759.7 1002.68 1762.31 1005.74 1764.92 1008.78C1767.53 1011.83 1770.14 1014.87 1772.76 1017.91C1775.39 1020.94 1778.02 1023.97 1780.65 1027C1783.28 1030.03 1785.93 1033.05 1788.57 1036.07C1791.22 1039.08 1793.87 1042.09 1796.53 1045.1C1799.19 1048.11 1801.86 1051.11 1804.53 1054.1C1807.21 1057.1 1809.88 1060.09 1812.57 1063.08C1815.25 1066.07 1817.95 1069.05 1820.64 1072.02C1823.34 1075 1826.05 1077.97 1828.76 1080.94C1831.47 1083.9 1834.19 1086.86 1836.91 1089.82C1839.64 1092.78 1842.37 1095.73 1845.1 1098.67C1847.84 1101.62 1850.58 1104.56 1853.33 1107.49C1856.08 1110.43 1858.84 1113.36 1861.61 1116.28C1864.37 1119.21 1867.14 1122.13 1869.92 1125.04C1872.69 1127.96 1875.48 1130.87 1878.27 1133.77C1881.06 1136.68 1885.26 1141.02 1886.66 1142.47" fill="none" stroke="#1f1a17" stroke-width="7" stroke-linejoin="round"/>
<path d="M464.77 342.54C466.4 341.33 471.28 337.69 474.55 335.31C477.83 332.92 481.11 330.56 484.41 328.22C487.72 325.88 491.03 323.57 494.36 321.27C497.68 318.98 501.02 316.71 504.37 314.47C507.72 312.22 511.09 310 514.46 307.8C517.84 305.6 521.23 303.43 524.63 301.27C528.03 299.12 531.44 296.99 534.86 294.88C538.29 292.77 541.72 290.69 545.17 288.62C548.62 286.56 552.07 284.52 555.54 282.5C559.01 280.48 562.49 278.49 565.99 276.51C569.48 274.54 572.98 272.58 576.49 270.65C580.01 268.72 583.53 266.81 587.06 264.93C590.6 263.04 594.14 261.17 597.7 259.33C601.25 257.48 604.82 255.66 608.39 253.86C611.97 252.06 615.55 250.27 619.15 248.51C622.74 246.75 626.35 245.02 629.96 243.3C633.58 241.58 637.2 239.88 640.83 238.2C644.46 236.53 648.11 234.87 651.76 233.23C655.41 231.6 659.07 229.98 662.74 228.39C666.41 226.79 670.08 225.22 673.77 223.66C677.46 222.1 681.15 220.57 684.85 219.05C688.56 217.54 692.27 216.04 695.99 214.56C699.71 213.09 703.43 211.63 707.17 210.19C710.9 208.76 714.65 207.34 718.4 205.94C722.15 204.54 725.91 203.16 729.67 201.8C733.44 200.44 737.21 199.1 740.99 197.77C744.77 196.45 748.55 195.15 752.35 193.86C756.14 192.57 759.94 191.31 763.75 190.06C767.56 188.81 771.37 187.58 775.19 186.37C779.01 185.15 782.84 183.96 786.67 182.78C790.5 181.61 794.34 180.45 798.18 179.31C802.03 178.17 805.88 177.05 809.73 175.94C813.59 174.83 817.45 173.75 821.32 172.68C825.18 171.61 829.06 170.55 832.93 169.52C836.81 168.48 840.69 167.46 844.58 166.46C848.47 165.46 852.36 164.48 856.26 163.51C860.15 162.54 864.06 161.59 867.96 160.66C871.87 159.72 875.78 158.8 879.69 157.9C883.61 157 887.53 156.11 891.45 155.25C895.37 154.38 899.3 153.52 903.23 152.69C907.16 151.85 911.09 151.03 915.03 150.22C918.97 149.42 922.91 148.63 926.85 147.86C930.79 147.08 934.74 146.32 938.69 145.58C942.64 144.84 946.6 144.11 950.55 143.4C954.51 142.69 958.47 141.99 962.43 141.31C966.39 140.63 970.35 139.96 974.32 139.31C978.28 138.65 982.25 138.02 986.22 137.39C990.19 136.77 994.16 136.16 998.13 135.57C1002.11 134.97 1006.08 134.39 1010.06 133.83C1014.04 133.26 1018.02 132.71 1022 132.17C1025.97 131.64 1029.96 131.11 1033.94 130.6C1037.92 130.1 1041.9 129.6 1045.89 129.12C1049.87 128.64 1053.85 128.17 1057.84 127.71C1061.82 127.26 1065.81 126.81 1069.8 126.39C1073.78 125.96 1077.77 125.54 1081.75 125.14C1085.74 124.74 1089.73 124.35 1093.71 123.97C1097.7 123.59 1101.69 123.23 1105.68 122.87C1109.66 122.52 1113.65 122.18 1117.64 121.85C1121.63 121.52 1125.62 121.2 1129.61 120.89C1133.6 120.58 1137.59 120.28 1141.58 119.99C1145.57 119.71 1149.56 119.43 1153.55 119.16C1157.54 118.9 1161.53 118.64 1165.53 118.39C1169.52 118.15 1173.51 117.91 1177.51 117.68C1181.5 117.45 1185.49 117.23 1189.49 117.02C1193.48 116.81 1197.48 116.6 1201.47 116.41C1205.47 116.21 1209.47 116.03 1213.47 115.85C1217.46 115.67 1221.46 115.49 1225.46 115.33C1229.46 115.16 1233.46 115.01 1237.46 114.86C1241.46 114.7 1245.46 114.56 1249.46 114.42C1253.47 114.28 1257.47 114.15 1261.47 114.03C1265.48 113.9 1269.48 113.78 1273.49 113.66C1277.49 113.55 1281.5 113.44 1285.51 113.33C1289.51 113.22 1293.52 113.12 1297.53 113.03C1301.54 112.93 1305.55 112.84 1309.56 112.75C1313.57 112.66 1317.58 112.58 1321.6 112.49C1325.61 112.41 1329.62 112.34 1333.64 112.26C1337.66 112.18 1341.67 112.11 1345.69 112.04C1349.71 111.97 1353.73 111.9 1357.75 111.84C1361.77 111.77 1365.79 111.71 1369.81 111.65C1373.83 111.58 1377.85 111.52 1381.88 111.46C1385.9 111.4 1389.93 111.34 1393.95 111.29C1397.98 111.23 1402.01 111.17 1406.04 111.11C1410.07 111.05 1414.1 111 1418.13 110.94C1422.16 110.88 1426.2 110.82 1430.23 110.76C1434.27 110.7 1438.3 110.64 1442.34 110.58C1446.38 110.52 1450.42 110.45 1454.46 110.39C1458.5 110.32 1462.54 110.26 1466.58 110.19C1470.62 110.12 1474.67 110.05 1478.71 109.99C1482.76 109.92 1486.8 109.86 1490.85 109.8C1494.9 109.75 1498.94 109.7 1502.99 109.66C1507.03 109.62 1511.08 109.59 1515.12 109.58C1519.17 109.56 1523.21 109.56 1527.25 109.58C1531.29 109.6 1535.34 109.63 1539.37 109.68C1543.41 109.74 1547.45 109.81 1551.49 109.91C1555.52 110.01 1559.55 110.14 1563.58 110.29C1567.61 110.44 1571.64 110.62 1575.66 110.83C1579.68 111.04 1583.7 111.28 1587.72 111.56C1591.73 111.84 1595.75 112.15 1599.75 112.5C1603.76 112.85 1607.76 113.24 1611.76 113.67C1615.76 114.1 1619.75 114.57 1623.74 115.09C1627.73 115.61 1631.71 116.17 1635.68 116.79C1639.66 117.4 1643.63 118.06 1647.59 118.77C1651.56 119.49 1655.52 120.25 1659.46 121.08C1663.41 121.9 1667.35 122.77 1671.28 123.71C1675.2 124.65 1679.12 125.64 1683.01 126.7C1686.9 127.75 1690.78 128.87 1694.63 130.05C1698.48 131.23 1702.31 132.47 1706.1 133.78C1709.9 135.09 1713.68 136.46 1717.42 137.91C1721.16 139.35 1724.87 140.87 1728.53 142.45C1732.2 144.04 1735.84 145.7 1739.43 147.43C1743.02 149.16 1746.57 150.97 1750.07 152.85C1753.57 154.73 1757.03 156.69 1760.43 158.73C1763.83 160.78 1767.19 162.89 1770.49 165.1C1773.78 167.3 1777.02 169.59 1780.21 171.96C1783.39 174.32 1786.51 176.78 1789.58 179.3C1792.64 181.83 1795.65 184.43 1798.59 187.1C1801.54 189.77 1804.43 192.52 1807.26 195.33C1810.09 198.13 1812.86 201.01 1815.57 203.95C1818.28 206.88 1820.93 209.88 1823.52 212.93C1826.12 215.97 1828.65 219.08 1831.12 222.23C1833.59 225.39 1836 228.6 1838.36 231.84C1840.71 235.09 1843 238.39 1845.23 241.72C1847.46 245.05 1849.63 248.42 1851.74 251.82C1853.85 255.23 1855.9 258.67 1857.89 262.14C1859.89 265.61 1861.82 269.11 1863.7 272.64C1865.58 276.17 1867.41 279.73 1869.19 283.32C1870.97 286.9 1872.69 290.52 1874.38 294.16C1876.06 297.79 1877.69 301.46 1879.29 305.14C1880.88 308.82 1882.43 312.53 1883.95 316.25C1885.46 319.98 1886.93 323.73 1888.37 327.49C1889.81 331.25 1891.22 335.03 1892.59 338.82C1893.97 342.62 1895.3 346.43 1896.62 350.25C1897.94 354.07 1899.22 357.91 1900.49 361.75C1901.75 365.6 1902.99 369.45 1904.21 373.32C1905.43 377.18 1906.62 381.05 1907.81 384.93C1908.99 388.8 1910.16 392.69 1911.31 396.57C1912.47 400.46 1913.61 404.35 1914.74 408.24C1915.87 412.12 1916.99 416.02 1918.11 419.9C1919.23 423.79 1920.34 427.68 1921.45 431.56C1922.56 435.45 1923.67 439.33 1924.78 443.21C1925.88 447.09 1926.98 450.97 1928.08 454.84C1929.18 458.71 1930.27 462.59 1931.36 466.46C1932.45 470.33 1933.54 474.2 1934.63 478.06C1935.71 481.93 1936.8 485.79 1937.88 489.66C1938.96 493.52 1940.04 497.38 1941.11 501.24C1942.19 505.1 1943.26 508.96 1944.33 512.82C1945.4 516.68 1946.47 520.53 1947.54 524.39C1948.6 528.24 1949.67 532.1 1950.73 535.95C1951.79 539.81 1952.85 543.66 1953.91 547.51C1954.96 551.36 1956.02 555.22 1957.07 559.07C1958.13 562.92 1959.18 566.77 1960.23 570.62C1961.28 574.47 1962.33 578.32 1963.38 582.17C1964.43 586.02 1965.47 589.87 1966.52 593.72C1967.56 597.57 1968.61 601.42 1969.65 605.28C1970.69 609.13 1971.73 612.98 1972.77 616.83C1973.81 620.68 1974.85 624.54 1975.89 628.39C1976.93 632.24 1977.96 636.1 1979 639.95C1980.04 643.81 1981.07 647.66 1982.11 651.52C1983.14 655.38 1984.18 659.24 1985.21 663.1C1986.24 666.96 1987.28 670.82 1988.31 674.68C1989.34 678.55 1990.37 682.41 1991.41 686.28C1992.44 690.14 1993.47 694.01 1994.5 697.88C1995.53 701.74 1996.56 705.61 1997.59 709.48C1998.62 713.36 1999.65 717.23 2000.68 721.1C2001.71 724.97 2002.74 728.85 2003.77 732.72C2004.8 736.6 2005.83 740.47 2006.86 744.35C2007.89 748.23 2008.92 752.11 2009.95 755.98C2010.98 759.86 2012.01 763.74 2013.04 767.62C2014.07 771.5 2015.1 775.38 2016.13 779.27C2017.16 783.15 2018.19 787.03 2019.22 790.91C2020.25 794.8 2021.27 798.68 2022.3 802.57C2023.33 806.45 2024.36 810.33 2025.39 814.22C2026.42 818.11 2027.46 821.99 2028.49 825.88C2029.52 829.76 2030.55 833.65 2031.58 837.54C2032.61 841.42 2033.64 845.31 2034.67 849.2C2035.71 853.09 2036.74 856.97 2037.77 860.86C2038.8 864.75 2039.84 868.64 2040.87 872.53C2041.9 876.42 2042.94 880.3 2043.97 884.19C2045.01 888.08 2046.04 891.97 2047.08 895.86C2048.11 899.75 2049.15 903.63 2050.19 907.52C2051.22 911.41 2052.26 915.3 2053.3 919.19C2054.34 923.07 2055.38 926.96 2056.42 930.85C2057.46 934.73 2058.5 938.62 2059.54 942.51C2060.58 946.39 2061.62 950.28 2062.67 954.17C2063.71 958.05 2064.75 961.94 2065.8 965.82C2066.84 969.71 2067.89 973.59 2068.94 977.47C2069.98 981.36 2071.03 985.24 2072.08 989.12C2073.13 993 2074.18 996.89 2075.23 1000.77C2076.28 1004.65 2077.33 1008.53 2078.38 1012.41C2079.44 1016.29 2080.49 1020.16 2081.54 1024.04C2082.6 1027.92 2083.66 1031.8 2084.71 1035.67C2085.77 1039.55 2086.83 1043.42 2087.89 1047.29C2088.95 1051.17 2090.01 1055.04 2091.07 1058.91C2092.14 1062.78 2093.2 1066.65 2094.27 1070.52C2095.33 1074.39 2096.4 1078.26 2097.47 1082.12C2098.54 1085.99 2099.61 1089.86 2100.68 1093.72C2101.75 1097.58 2102.82 1101.45 2103.89 1105.31C2104.97 1109.17 2106.05 1113.03 2107.12 1116.88C2108.2 1120.74 2109.28 1124.6 2110.36 1128.45C2111.44 1132.31 2112.52 1136.16 2113.61 1140.01C2114.69 1143.86 2115.78 1147.71 2116.86 1151.56C2117.95 1155.41 2119.59 1161.18 2120.13 1163.1" fill="none" stroke="#ee2a70" stroke-width="7" stroke-linejoin="round"/>
<path d="M230.3 426.51C231.22 426.03 233.97 424.6 235.81 423.63C237.64 422.67 239.47 421.68 241.31 420.72C243.15 419.75 244.98 418.79 246.82 417.86C248.66 416.93 250.51 416.01 252.36 415.14C254.21 414.27 256.06 413.43 257.93 412.66C259.79 411.88 261.66 411.14 263.54 410.49C265.42 409.84 267.3 409.24 269.2 408.74C271.1 408.23 273.01 407.8 274.93 407.48C276.85 407.15 278.79 406.91 280.72 406.77C282.65 406.63 284.59 406.58 286.52 406.62C288.45 406.66 290.39 406.8 292.3 407.03C294.22 407.26 296.13 407.59 298.02 408.01C299.91 408.43 301.79 408.94 303.64 409.55C305.49 410.16 307.32 410.86 309.11 411.66C310.9 412.46 312.67 413.35 314.4 414.34C316.12 415.33 317.81 416.42 319.46 417.6C321.1 418.78 322.71 420.05 324.25 421.43C325.8 422.8 327.31 424.27 328.75 425.83C330.19 427.4 331.55 429.1 332.89 430.82C334.24 432.54 335.49 434.41 336.8 436.15C338.12 437.89 339.39 439.7 340.78 441.28C342.18 442.86 343.6 444.4 345.17 445.63C346.73 446.86 348.45 447.94 350.17 448.64C351.9 449.35 353.75 449.82 355.52 449.87C357.29 449.92 359.09 449.56 360.78 448.95C362.47 448.34 364.14 447.31 365.66 446.2C367.19 445.09 368.64 443.7 369.95 442.29C371.25 440.88 372.42 439.34 373.5 437.74C374.58 436.14 375.52 434.45 376.4 432.7C377.28 430.95 378.05 429.11 378.77 427.24C379.48 425.38 380.11 423.44 380.7 421.48C381.3 419.52 381.82 417.51 382.32 415.5C382.82 413.48 383.27 411.43 383.73 409.39C384.18 407.34 384.6 405.28 385.04 403.24C385.47 401.2 385.9 399.16 386.35 397.15C386.81 395.14 387.28 393.15 387.77 391.18C388.26 389.22 388.77 387.27 389.29 385.34C389.81 383.41 390.36 381.5 390.91 379.6C391.47 377.7 392.04 375.82 392.63 373.95C393.22 372.07 393.82 370.21 394.43 368.36C395.05 366.5 395.68 364.66 396.33 362.82C396.97 360.98 397.63 359.14 398.29 357.31C398.96 355.47 399.65 353.64 400.34 351.81C401.03 349.97 401.74 348.14 402.45 346.3C403.16 344.46 403.89 342.62 404.63 340.77C405.36 338.92 406.1 337.06 406.86 335.2C407.61 333.33 408.37 331.45 409.15 329.57C409.92 327.69 410.71 325.8 411.51 323.91C412.31 322.03 413.13 320.14 413.97 318.26C414.8 316.38 415.66 314.51 416.53 312.65C417.41 310.79 418.31 308.93 419.24 307.1C420.17 305.27 421.11 303.46 422.1 301.67C423.08 299.88 424.09 298.11 425.13 296.37C426.18 294.63 427.25 292.92 428.36 291.24C429.48 289.57 430.62 287.92 431.81 286.32C433 284.72 434.22 283.16 435.5 281.65C436.77 280.13 438.08 278.66 439.44 277.24C440.8 275.82 442.21 274.45 443.66 273.14C445.12 271.83 446.62 270.58 448.19 269.39C449.75 268.2 451.36 267.06 453.03 266C454.69 264.94 456.42 263.95 458.18 263.02C459.94 262.1 461.75 261.25 463.6 260.48C465.44 259.7 467.32 259 469.23 258.38C471.13 257.76 473.07 257.22 475.02 256.76C476.98 256.31 478.96 255.93 480.94 255.65C482.92 255.37 484.93 255.17 486.93 255.07C488.92 254.96 490.93 254.96 492.93 255.03C494.93 255.11 496.93 255.3 498.92 255.53C500.92 255.77 502.91 256.09 504.9 256.43C506.89 256.78 508.87 257.19 510.86 257.59C512.84 257.99 514.82 258.44 516.8 258.86C518.79 259.28 520.76 259.71 522.74 260.1C524.72 260.48 526.7 260.86 528.67 261.16C530.65 261.46 532.62 261.72 534.59 261.89C536.57 262.07 538.54 262.18 540.51 262.22C542.48 262.27 544.46 262.24 546.43 262.16C548.4 262.08 550.37 261.94 552.34 261.75C554.31 261.55 556.28 261.3 558.25 261C560.23 260.7 562.2 260.34 564.17 259.95C566.14 259.56 568.11 259.09 570.09 258.64C572.06 258.18 574.03 257.66 576.01 257.21C577.98 256.76 579.95 256.29 581.93 255.95C583.9 255.6 585.88 255.3 587.86 255.13C589.83 254.96 591.81 254.91 593.79 254.93C595.77 254.96 597.74 255.09 599.72 255.27C601.7 255.46 603.68 255.73 605.66 256.04C607.64 256.35 609.61 256.73 611.59 257.13C613.57 257.53 615.54 257.98 617.52 258.43C619.5 258.89 621.47 259.37 623.44 259.84C625.42 260.31 627.39 260.79 629.36 261.24C631.33 261.68 633.3 262.13 635.26 262.5C637.22 262.87 639.19 263.22 641.14 263.47C643.09 263.72 645.03 263.92 646.97 264C648.9 264.07 650.83 264.07 652.74 263.92C654.66 263.76 656.56 263.5 658.45 263.07C660.33 262.64 662.2 262.02 664.07 261.34C665.93 260.66 667.78 259.8 669.64 258.98C671.49 258.15 673.34 257.22 675.2 256.38C677.06 255.55 678.92 254.68 680.8 253.98C682.68 253.28 684.56 252.62 686.48 252.19C688.39 251.76 690.33 251.5 692.29 251.4C694.25 251.29 696.24 251.44 698.24 251.55C700.23 251.66 702.26 251.93 704.28 252.06C706.31 252.19 708.35 252.35 710.39 252.34C712.43 252.33 714.48 252.16 716.53 252C718.57 251.84 720.62 251.55 722.65 251.36C724.69 251.16 726.72 250.92 728.74 250.81C730.75 250.69 732.76 250.64 734.75 250.66C736.75 250.68 738.73 250.78 740.7 250.93C742.68 251.08 744.64 251.3 746.6 251.57C748.55 251.83 750.5 252.16 752.44 252.52C754.38 252.89 756.31 253.31 758.24 253.75C760.17 254.2 762.09 254.7 764 255.21C765.92 255.73 767.83 256.29 769.74 256.86C771.65 257.43 773.55 258.03 775.46 258.64C777.36 259.25 779.26 259.88 781.16 260.51C783.06 261.14 784.96 261.79 786.86 262.43C788.76 263.07 790.66 263.71 792.56 264.35C794.46 264.98 796.36 265.62 798.26 266.24C800.17 266.87 802.07 267.49 803.98 268.1C805.89 268.71 807.79 269.32 809.7 269.91C811.62 270.51 813.53 271.1 815.44 271.67C817.36 272.25 819.28 272.81 821.2 273.37C823.12 273.92 825.04 274.46 826.97 274.99C828.89 275.51 830.82 276.03 832.75 276.52C834.69 277.02 836.62 277.5 838.56 277.97C840.5 278.43 842.45 278.88 844.39 279.31C846.34 279.74 848.29 280.15 850.25 280.54C852.21 280.93 854.17 281.3 856.13 281.64C858.1 281.99 860.07 282.32 862.05 282.62C864.02 282.92 866 283.2 867.99 283.46C869.97 283.71 871.96 283.95 873.96 284.16C875.95 284.37 877.95 284.56 879.95 284.73C881.95 284.9 883.95 285.05 885.96 285.18C887.96 285.31 889.97 285.42 891.98 285.51C893.99 285.6 896 285.67 898.01 285.72C900.02 285.78 902.04 285.81 904.05 285.83C906.06 285.85 908.08 285.85 910.09 285.84C912.1 285.82 914.12 285.79 916.13 285.74C918.14 285.7 920.15 285.64 922.16 285.56C924.17 285.48 926.17 285.39 928.18 285.29C930.18 285.19 932.18 285.07 934.18 284.94C936.18 284.81 938.18 284.67 940.17 284.51C942.16 284.36 944.15 284.19 946.13 284.01C948.12 283.83 950.1 283.64 952.09 283.44C954.07 283.24 956.05 283.03 958.02 282.81C960 282.58 961.98 282.35 963.95 282.11C965.93 281.86 967.9 281.61 969.87 281.34C971.84 281.08 973.82 280.8 975.79 280.52C977.76 280.24 979.73 279.94 981.7 279.64C983.67 279.34 985.63 279.03 987.6 278.71C989.57 278.39 991.54 278.06 993.51 277.73C995.48 277.39 997.45 277.03 999.43 276.7C1001.4 276.36 1003.37 275.98 1005.34 275.72C1007.32 275.46 1009.29 275.21 1011.27 275.13C1013.25 275.05 1015.23 275.09 1017.2 275.24C1019.18 275.39 1021.16 275.69 1023.13 276.02C1025.1 276.36 1027.06 276.79 1029.02 277.25C1030.98 277.71 1032.93 278.23 1034.88 278.76C1036.83 279.29 1038.77 279.86 1040.71 280.42C1042.66 280.99 1044.6 281.58 1046.54 282.14C1048.48 282.7 1050.43 283.27 1052.38 283.8C1054.33 284.33 1056.28 284.84 1058.24 285.3C1060.2 285.77 1062.17 286.21 1064.13 286.6C1066.1 286.99 1068.08 287.35 1070.06 287.65C1072.03 287.95 1074.02 288.22 1076.01 288.42C1077.99 288.62 1079.99 288.77 1081.98 288.87C1083.98 288.98 1085.98 289.01 1087.99 289.04C1089.99 289.07 1092 289.05 1094 289.05C1096.01 289.05 1098.02 289.02 1100.02 289.03C1102.03 289.04 1104.03 289.04 1106.03 289.1C1108.03 289.17 1110.02 289.26 1112.01 289.4C1114 289.53 1115.99 289.71 1117.97 289.92C1119.96 290.13 1121.94 290.37 1123.92 290.65C1125.89 290.92 1127.87 291.22 1129.84 291.55C1131.81 291.88 1133.78 292.23 1135.75 292.61C1137.72 292.98 1139.68 293.38 1141.65 293.78C1143.61 294.19 1145.57 294.62 1147.53 295.06C1149.49 295.5 1151.45 295.95 1153.41 296.4C1155.37 296.86 1157.33 297.33 1159.29 297.79C1161.24 298.26 1163.2 298.73 1165.16 299.2C1167.12 299.66 1169.07 300.13 1171.03 300.59C1172.99 301.05 1174.95 301.5 1176.91 301.94C1178.87 302.39 1180.83 302.82 1182.79 303.24C1184.75 303.66 1186.71 304.07 1188.67 304.46C1190.64 304.86 1192.6 305.25 1194.57 305.63C1196.53 306 1198.5 306.37 1200.46 306.72C1202.43 307.08 1204.4 307.42 1206.37 307.76C1208.33 308.09 1210.3 308.42 1212.27 308.73C1214.24 309.05 1216.22 309.35 1218.19 309.65C1220.16 309.95 1222.13 310.23 1224.11 310.51C1226.08 310.79 1228.05 311.05 1230.03 311.31C1232.01 311.57 1233.98 311.82 1235.96 312.06C1237.94 312.3 1239.91 312.54 1241.89 312.76C1243.87 312.99 1245.85 313.2 1247.83 313.41C1249.81 313.62 1251.79 313.82 1253.77 314.01C1255.76 314.2 1257.74 314.38 1259.72 314.56C1261.71 314.74 1263.69 314.91 1265.67 315.07C1267.66 315.23 1269.64 315.38 1271.63 315.53C1273.62 315.68 1275.6 315.82 1277.59 315.95C1279.58 316.09 1281.57 316.21 1283.56 316.33C1285.55 316.45 1287.54 316.57 1289.53 316.68C1291.52 316.78 1293.51 316.88 1295.5 316.98C1297.49 317.08 1299.48 317.17 1301.48 317.25C1303.47 317.33 1305.46 317.41 1307.46 317.49C1309.45 317.56 1311.45 317.63 1313.44 317.69C1315.44 317.75 1317.44 317.81 1319.43 317.86C1321.43 317.92 1323.43 317.97 1325.42 318.01C1327.42 318.05 1329.42 318.09 1331.42 318.13C1333.42 318.16 1335.42 318.19 1337.42 318.22C1339.42 318.25 1341.42 318.27 1343.42 318.29C1345.42 318.31 1347.43 318.33 1349.43 318.34C1351.43 318.35 1353.43 318.36 1355.44 318.37C1357.44 318.37 1359.44 318.37 1361.45 318.37C1363.45 318.37 1365.46 318.37 1367.46 318.37C1369.47 318.36 1371.47 318.35 1373.48 318.34C1375.49 318.33 1377.49 318.32 1379.5 318.3C1381.51 318.29 1383.52 318.27 1385.52 318.25C1387.53 318.24 1389.54 318.22 1391.55 318.19C1393.56 318.17 1395.57 318.15 1397.58 318.13C1399.59 318.1 1401.6 318.08 1403.61 318.05C1405.62 318.03 1407.63 318 1409.64 317.97C1411.65 317.94 1413.66 317.92 1415.68 317.89C1417.69 317.86 1419.7 317.83 1421.71 317.8C1423.72 317.77 1425.74 317.74 1427.75 317.72C1429.76 317.69 1431.78 317.66 1433.79 317.63C1435.81 317.6 1437.82 317.58 1439.83 317.55C1441.85 317.52 1443.86 317.5 1445.88 317.47C1447.89 317.45 1449.91 317.42 1451.92 317.4C1453.94 317.38 1455.96 317.36 1457.97 317.35C1459.99 317.33 1462 317.32 1464.02 317.31C1466.03 317.3 1468.05 317.29 1470.06 317.29C1472.07 317.29 1474.09 317.29 1476.1 317.3C1478.11 317.31 1480.13 317.32 1482.14 317.34C1484.15 317.36 1486.16 317.38 1488.17 317.41C1490.18 317.45 1492.19 317.48 1494.2 317.53C1496.21 317.57 1498.22 317.63 1500.23 317.69C1502.23 317.75 1504.24 317.82 1506.24 317.9C1508.25 317.98 1510.25 318.06 1512.25 318.16C1514.25 318.26 1516.25 318.36 1518.25 318.48C1520.25 318.6 1522.25 318.73 1524.24 318.87C1526.24 319 1528.23 319.15 1530.22 319.32C1532.21 319.48 1534.2 319.65 1536.19 319.84C1538.18 320.03 1540.16 320.23 1542.15 320.44C1544.13 320.65 1546.11 320.88 1548.09 321.12C1550.07 321.36 1552.04 321.62 1554.02 321.89C1555.99 322.16 1557.96 322.44 1559.93 322.75C1561.9 323.05 1563.87 323.36 1565.83 323.7C1567.8 324.03 1569.76 324.38 1571.71 324.75C1573.67 325.12 1575.63 325.5 1577.58 325.91C1579.53 326.31 1581.48 326.73 1583.43 327.17C1585.37 327.61 1587.31 328.07 1589.25 328.55C1591.19 329.03 1593.13 329.52 1595.06 330.04C1596.99 330.56 1598.92 331.1 1600.84 331.65C1602.77 332.21 1604.68 332.78 1606.6 333.38C1608.51 333.97 1610.42 334.58 1612.32 335.21C1614.23 335.85 1616.12 336.5 1618.01 337.16C1619.91 337.83 1621.79 338.52 1623.67 339.23C1625.55 339.93 1627.42 340.66 1629.28 341.4C1631.15 342.14 1633.01 342.91 1634.86 343.69C1636.71 344.47 1638.55 345.26 1640.38 346.08C1642.22 346.89 1644.04 347.73 1645.86 348.58C1647.68 349.43 1649.48 350.3 1651.28 351.19C1653.08 352.08 1654.87 352.98 1656.65 353.91C1658.43 354.83 1660.2 355.77 1661.96 356.73C1663.72 357.69 1665.47 358.66 1667.21 359.65C1668.95 360.65 1670.68 361.66 1672.39 362.68C1674.11 363.71 1675.81 364.76 1677.51 365.82C1679.2 366.88 1680.88 367.96 1682.55 369.05C1684.22 370.15 1685.87 371.26 1687.52 372.39C1689.16 373.52 1690.79 374.66 1692.4 375.83C1694.02 376.99 1695.62 378.17 1697.21 379.36C1698.8 380.56 1700.38 381.77 1701.94 383C1703.5 384.22 1705.04 385.47 1706.57 386.73C1708.1 387.99 1709.62 389.26 1711.12 390.56C1712.62 391.85 1714.11 393.15 1715.58 394.48C1717.05 395.8 1718.51 397.14 1719.96 398.49C1721.4 399.84 1722.83 401.21 1724.25 402.59C1725.67 403.97 1727.07 405.36 1728.46 406.77C1729.85 408.18 1731.23 409.6 1732.59 411.04C1733.95 412.47 1735.3 413.92 1736.64 415.38C1737.98 416.84 1739.31 418.32 1740.62 419.8C1741.93 421.29 1743.23 422.79 1744.52 424.3C1745.81 425.81 1747.09 427.33 1748.36 428.86C1749.62 430.39 1750.88 431.94 1752.12 433.49C1753.36 435.05 1754.59 436.61 1755.81 438.19C1757.03 439.77 1758.24 441.35 1759.44 442.95C1760.64 444.54 1761.83 446.15 1763.01 447.77C1764.19 449.38 1765.35 451.01 1766.51 452.64C1767.67 454.27 1768.82 455.91 1769.96 457.57C1771.09 459.22 1772.22 460.88 1773.34 462.54C1774.46 464.21 1775.57 465.88 1776.67 467.57C1777.77 469.25 1778.86 470.94 1779.95 472.64C1781.03 474.33 1782.11 476.04 1783.17 477.75C1784.24 479.46 1785.3 481.17 1786.35 482.9C1787.4 484.62 1788.44 486.35 1789.47 488.08C1790.51 489.82 1791.53 491.56 1792.55 493.3C1793.57 495.05 1794.58 496.8 1795.59 498.55C1796.59 500.3 1797.59 502.06 1798.58 503.83C1799.57 505.59 1800.56 507.36 1801.54 509.13C1802.52 510.9 1803.49 512.67 1804.45 514.45C1805.42 516.23 1806.38 518.01 1807.33 519.79C1808.29 521.58 1809.23 523.36 1810.18 525.15C1811.12 526.94 1812.06 528.73 1812.99 530.52C1813.92 532.31 1814.85 534.11 1815.77 535.9C1816.7 537.7 1817.61 539.5 1818.53 541.29C1819.44 543.09 1820.35 544.89 1821.25 546.69C1822.16 548.49 1823.06 550.29 1823.95 552.1C1824.85 553.9 1825.74 555.7 1826.62 557.51C1827.51 559.32 1828.39 561.12 1829.26 562.93C1830.14 564.74 1831.01 566.55 1831.88 568.36C1832.75 570.17 1833.61 571.99 1834.47 573.8C1835.33 575.61 1836.18 577.43 1837.03 579.24C1837.88 581.06 1838.73 582.88 1839.57 584.7C1840.41 586.51 1841.25 588.33 1842.09 590.16C1842.92 591.98 1843.75 593.8 1844.57 595.62C1845.4 597.45 1846.22 599.27 1847.04 601.1C1847.85 602.92 1848.67 604.75 1849.48 606.58C1850.29 608.41 1851.09 610.24 1851.89 612.07C1852.69 613.9 1853.49 615.73 1854.29 617.57C1855.08 619.4 1855.87 621.24 1856.66 623.07C1857.44 624.91 1858.22 626.74 1859 628.58C1859.78 630.42 1860.56 632.26 1861.33 634.1C1862.1 635.94 1862.87 637.78 1863.63 639.63C1864.4 641.47 1865.16 643.31 1865.91 645.16C1866.67 647 1867.42 648.85 1868.17 650.7C1868.92 652.54 1869.67 654.39 1870.41 656.24C1871.16 658.09 1871.9 659.94 1872.63 661.8C1873.37 663.65 1874.1 665.5 1874.83 667.36C1875.56 669.21 1876.29 671.06 1877.02 672.92C1877.74 674.78 1878.46 676.64 1879.18 678.49C1879.89 680.35 1880.61 682.21 1881.32 684.07C1882.03 685.93 1882.74 687.8 1883.44 689.66C1884.15 691.52 1884.85 693.39 1885.55 695.25C1886.25 697.12 1886.95 698.98 1887.64 700.85C1888.33 702.72 1889.03 704.58 1889.71 706.45C1890.4 708.32 1891.09 710.19 1891.77 712.06C1892.45 713.93 1893.13 715.81 1893.81 717.68C1894.48 719.55 1895.16 721.43 1895.83 723.3C1896.5 725.18 1897.17 727.05 1897.84 728.93C1898.51 730.81 1899.17 732.69 1899.83 734.57C1900.49 736.45 1901.15 738.33 1901.81 740.21C1902.47 742.09 1903.12 743.97 1903.77 745.85C1904.42 747.74 1905.07 749.62 1905.72 751.51C1906.37 753.39 1907.01 755.28 1907.66 757.16C1908.3 759.05 1908.94 760.94 1909.58 762.83C1910.22 764.72 1910.85 766.61 1911.49 768.5C1912.12 770.39 1912.75 772.28 1913.38 774.17C1914.01 776.06 1914.64 777.96 1915.27 779.85C1915.9 781.74 1916.52 783.64 1917.14 785.54C1917.76 787.43 1918.38 789.33 1919 791.23C1919.62 793.12 1920.24 795.02 1920.85 796.92C1921.47 798.82 1922.08 800.72 1922.69 802.62C1923.31 804.52 1923.92 806.43 1924.52 808.33C1925.13 810.23 1925.74 812.14 1926.34 814.04C1926.95 815.95 1927.55 817.85 1928.16 819.76C1928.76 821.66 1929.36 823.57 1929.96 825.48C1930.56 827.39 1931.15 829.3 1931.75 831.2C1932.35 833.11 1932.94 835.02 1933.54 836.94C1934.13 838.85 1934.72 840.76 1935.31 842.67C1935.9 844.58 1936.49 846.5 1937.08 848.41C1937.67 850.33 1938.26 852.24 1938.84 854.16C1939.43 856.07 1940.02 857.99 1940.6 859.91C1941.18 861.82 1941.77 863.74 1942.35 865.66C1942.93 867.58 1943.51 869.5 1944.09 871.42C1944.67 873.34 1945.25 875.26 1945.83 877.18C1946.41 879.1 1946.99 881.03 1947.56 882.95C1948.14 884.87 1948.72 886.8 1949.29 888.72C1949.87 890.65 1950.44 892.57 1951.01 894.5C1951.59 896.42 1952.16 898.35 1952.73 900.28C1953.31 902.2 1953.88 904.13 1954.45 906.06C1955.02 907.99 1955.59 909.92 1956.16 911.85C1956.73 913.78 1957.3 915.71 1957.87 917.64C1958.44 919.57 1959.01 921.5 1959.58 923.44C1960.15 925.37 1960.72 927.3 1961.29 929.24C1961.85 931.17 1962.42 933.1 1962.99 935.04C1963.56 936.97 1964.12 938.91 1964.69 940.85C1965.26 942.78 1965.83 944.72 1966.4 946.66C1966.96 948.59 1967.53 950.53 1968.1 952.47C1968.67 954.4 1969.24 956.34 1969.81 958.28C1970.39 960.21 1970.96 962.15 1971.54 964.08C1972.11 966.02 1972.69 967.95 1973.27 969.89C1973.85 971.82 1974.43 973.75 1975.02 975.69C1975.6 977.62 1976.19 979.55 1976.79 981.48C1977.38 983.4 1977.97 985.33 1978.57 987.26C1979.17 989.18 1979.78 991.1 1980.39 993.03C1980.99 994.95 1981.61 996.87 1982.22 998.78C1982.84 1000.7 1983.46 1002.61 1984.09 1004.52C1984.72 1006.43 1985.36 1008.34 1986 1010.25C1986.64 1012.15 1987.28 1014.06 1987.93 1015.96C1988.59 1017.85 1989.24 1019.75 1989.91 1021.64C1990.58 1023.53 1991.25 1025.42 1991.93 1027.31C1992.61 1029.19 1993.3 1031.07 1993.99 1032.95C1994.69 1034.83 1995.39 1036.7 1996.1 1038.57C1996.81 1040.43 1997.53 1042.3 1998.26 1044.16C1998.99 1046.01 1999.73 1047.87 2000.48 1049.72C2001.23 1051.56 2001.98 1053.41 2002.75 1055.25C2003.52 1057.08 2004.29 1058.92 2005.08 1060.74C2005.87 1062.57 2006.67 1064.39 2007.48 1066.21C2008.28 1068.02 2009.1 1069.83 2009.93 1071.64C2010.77 1073.44 2011.61 1075.24 2012.46 1077.03C2013.32 1078.82 2014.18 1080.6 2015.06 1082.38C2015.94 1084.16 2016.83 1085.93 2017.73 1087.69C2018.64 1089.45 2019.55 1091.21 2020.48 1092.96C2021.42 1094.71 2022.36 1096.45 2023.32 1098.18C2024.27 1099.92 2025.24 1101.64 2026.23 1103.36C2027.22 1105.08 2028.22 1106.79 2029.23 1108.49C2030.24 1110.19 2031.27 1111.88 2032.32 1113.57C2033.36 1115.25 2034.42 1116.93 2035.5 1118.6C2036.58 1120.26 2037.67 1121.92 2038.78 1123.57C2039.88 1125.22 2041.01 1126.86 2042.15 1128.49C2043.29 1130.12 2044.44 1131.74 2045.61 1133.35C2046.78 1134.97 2047.97 1136.57 2049.16 1138.16C2050.36 1139.75 2051.58 1141.33 2052.81 1142.91C2054.04 1144.48 2055.28 1146.04 2056.54 1147.59C2057.8 1149.14 2059.07 1150.68 2060.36 1152.21C2061.64 1153.74 2062.94 1155.26 2064.26 1156.77C2065.57 1158.28 2066.9 1159.77 2068.24 1161.26C2069.58 1162.74 2070.93 1164.22 2072.3 1165.68C2073.67 1167.14 2075.05 1168.59 2076.44 1170.03C2077.84 1171.47 2079.24 1172.9 2080.66 1174.32C2082.08 1175.73 2083.51 1177.13 2084.95 1178.53C2086.4 1179.92 2087.85 1181.3 2089.32 1182.66C2090.79 1184.03 2092.27 1185.38 2093.76 1186.72C2095.25 1188.06 2096.76 1189.39 2098.27 1190.7C2099.78 1192.02 2101.31 1193.32 2102.85 1194.61C2104.38 1195.89 2105.93 1197.17 2107.49 1198.43C2109.05 1199.69 2111.41 1201.54 2112.2 1202.17" fill="none" stroke="#0087e1" stroke-width="7" stroke-linejoin="round"/>
</g>
<g id="labels">
<text transform="matrix(0.963 0 0 1 0 60.9)" x="118.81 148.03 179.29" y="0" font-size="57.1">100</text>
<text transform="matrix(0.963 0 0 1 0 263.7)" x="131.27 163.92" y="0" font-size="57.1">80</text>
<text transform="matrix(0.963 0 0 1 0 466.6)" x="130.02 163.92" y="0" font-size="57.1">60</text>
<text transform="matrix(0.963 0 0 1 0 669.8)" x="130.57 163.92" y="0" font-size="57.1">40</text>
<text transform="matrix(0.963 0 0 1 0 875.7)" x="130.46 163.92" y="0" font-size="57.1">20</text>
<text transform="matrix(0.963 0 0 1 0 1078.9)" x="148.24" y="0" font-size="57.1">0</text>
<text transform="matrix(0.963 0 0 1 0 1293.8)" x="195.02 225.91 257.17" y="0" font-size="57.1">300</text>
<text transform="matrix(0.963 0 0 1 0 1293.8)" x="663.13 695.49 726.74" y="0" font-size="57.1">500</text>
<text transform="matrix(0.963 0 0 1 0 1293.8)" x="1129.68 1163.71 1194.97" y="0" font-size="57.1">700</text>
<text transform="matrix(0.963 0 0 1 0 1293.8)" x="1599.19 1632.04 1663.29" y="0" font-size="57.1">900</text>
<text transform="matrix(0.963 0 0 1 0 1293.8)" x="2125.04 2156.3 2181.26 2212.52" y="0" font-size="57.1">1100</text>
<text transform="matrix(0.99 0 0 1 0 1353)" x="940.76 992.1 1020.91 1049.48 1079.16 1090.08 1123.56 1152.43 1182.97 1198.54 1230.52 1243.81 1266.08 1298.5 1341.08" y="0" font-size="57.5">Wavelength (nm)</text>
<text transform="matrix(0 -0.9853 1 0 82 953.58)" font-size="57.5" style="font-kerning:none">Quantum efficiency (%)</text>
<text transform="matrix(0.9562 0 0 1 0 131.6)" x="1941.19 1982.23 1995.31 2010.56 2050.36 2066.71" y="0" font-size="58.85">Si PIN</text>
<text transform="matrix(0.945 0 0 1 0 182.7)" x="1948.7 1992.82 2010.13 2052.96 2066.14 2108.99" y="0" font-size="59.3">NIR AR</text>
<text transform="matrix(0.99 0 0 1 0 231)" x="1862.33 1889.84 1920.05 1951.49 1965.92 1980.06 2008.95" y="0" font-size="57.5">coating</text>
<text transform="matrix(0.9562 0 0 1 0 251.9)" x="1428.77 1469.81 1482.89 1498.14 1537.94 1554.29" y="0" font-size="58.85">Si PIN</text>
<text transform="matrix(0.9808 0 0 1 0 298.7)" x="1286.29 1328.78 1367.38 1377.57 1417.7 1459.49 1474.92 1502.32 1532.81 1564.54 1580.78 1593.38 1622.54" y="0" font-size="57.87">UV AR coating</text>
<text transform="matrix(0.99 0 0 1 0 375.1)" x="669.12 708.59 739.19 767.99 796.74 809.66 836.74 848.25 878.45" y="0" font-size="57.5">Back side</text>
<text transform="matrix(0.945 0 0 1 0 422.7)" x="671.83 713.54 756.02 797.11 812.33 856.55 905.64 955.66" y="0" font-size="59.3">APS/CMOS</text>
<text transform="matrix(0.99 0 0 1 0 565.7)" x="869.86 906.3 923.83 955.41 985.48 1001.45 1015.9 1042.97 1053.93 1085.05" y="0" font-size="57.5">Front side</text>
<text transform="matrix(0.9619 0 0 1 0 613.8)" x="838.7 882.84 926.83 970.3 985.26 1001.61 1035.8 1081.4 1098.45 1137.96 1170.04 1184.22" y="0" font-size="58.62">CCD/ITO Poly</text>
<text transform="matrix(0.99 0 0 1 0 568.8)" x="1446.39 1485.86 1516.1 1543.99 1572.74 1587.49 1614.01 1626.07 1656.28" y="0" font-size="57.5">Back side</text>
<text transform="matrix(0.945 0 0 1 0 616.5)" x="1578.63 1623.35 1669.49" y="0" font-size="59.3">CCD</text>
<text transform="matrix(0.99 0 0 1 0 1097)" x="268.77 305.4 322.74 353.95 384.39 400.36 414.81 441.88 452.84 483.23" y="0" font-size="57.5">Front side</text>
<text transform="matrix(0.945 0 0 1 0 1146.5)" x="347.8 392.53 438.09" y="0" font-size="59.3">CCD</text>
<text transform="matrix(0.99 0 0 1 0 1133)" x="1461.6 1498.23 1515.58 1546.79 1577.77 1593.75 1608.56 1635.63 1647.14 1677.35" y="0" font-size="57.5">Front side</text>
<text transform="matrix(0.945 0 0 1 0 1182.9)" x="1505.89 1547.6 1589.12 1629.63 1646.39 1690.03 1742 1790.11" y="0" font-size="59.3">APS/CMOS</text>
<rect x="117.9" y="56.03" width="10.29" height="5.57" fill="#fff"/>
<rect x="133.15" y="56.03" width="9.86" height="5.57" fill="#fff"/>
<rect x="2049.9" y="1288.93" width="10.29" height="5.57" fill="#fff"/>
<rect x="2065.15" y="1288.93" width="9.86" height="5.57" fill="#fff"/>
<rect x="2080" y="1288.93" width="10.29" height="5.57" fill="#fff"/>
<rect x="2095.25" y="1288.93" width="9.86" height="5.57" fill="#fff"/>
</g>
</svg>
</body>
</html>
